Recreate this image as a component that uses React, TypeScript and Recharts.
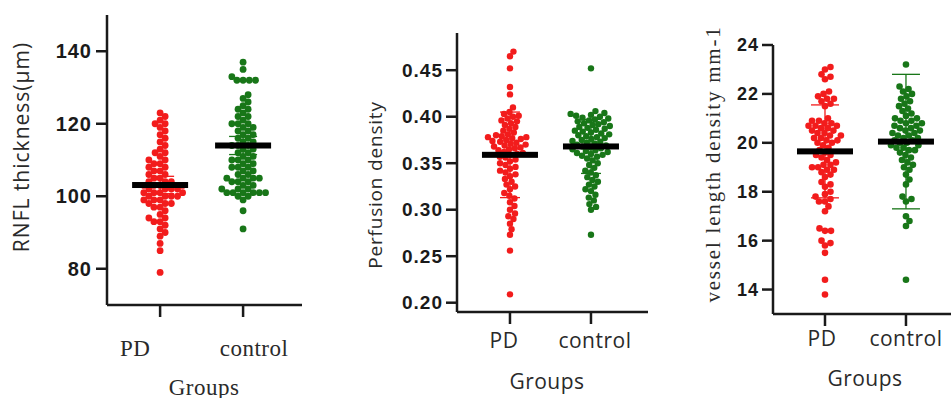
import React from 'react';
import { ScatterChart, Scatter, XAxis, YAxis, ErrorBar, Label } from 'recharts';

const GROUPS = ['PD', 'control'];
const RED = '#f21c1c';
const GREEN = '#187618';

// RNFL thickness (µm)
const rnflPD = [123, 122, 121, 120, 120, 119, 118, 117, 116, 115, 114, 113, 112, 112, 111, 110, 110, 109, 109, 108, 108, 107, 107, 106, 106, 105, 105, 104, 104, 104, 103, 103, 103, 103, 102, 102, 102, 102, 101, 101, 101, 101, 100, 100, 100, 100, 99, 99, 99, 98, 98, 98, 97, 97, 96, 95, 94, 94, 93, 93, 92, 91, 90, 89, 87, 85, 79];
const rnflControl = [137, 135, 133, 132, 132, 132, 132, 128, 127, 126, 125, 124, 124, 123, 122, 122, 121, 120, 120, 120, 119, 119, 118, 118, 117, 117, 116, 116, 115, 115, 114, 114, 114, 113, 113, 112, 112, 111, 111, 110, 110, 110, 109, 109, 108, 108, 108, 107, 107, 106, 106, 105, 105, 105, 105, 104, 104, 104, 103, 103, 102, 102, 102, 101, 101, 101, 101, 101, 101, 100, 100, 99, 96, 91];
const rnflMean = [103.1, 114.0];
const rnflErr = [2.4, 2.5];

// Perfusion density
const perfPD = [0.470, 0.465, 0.452, 0.432, 0.424, 0.410, 0.405, 0.403, 0.401, 0.400, 0.398, 0.396, 0.395, 0.393, 0.391, 0.389, 0.387, 0.385, 0.383, 0.381, 0.380, 0.379, 0.378, 0.378, 0.377, 0.376, 0.375, 0.374, 0.373, 0.372, 0.371, 0.370, 0.369, 0.368, 0.367, 0.366, 0.365, 0.364, 0.362, 0.361, 0.360, 0.359, 0.357, 0.356, 0.354, 0.352, 0.350, 0.348, 0.346, 0.344, 0.342, 0.340, 0.338, 0.336, 0.333, 0.330, 0.327, 0.325, 0.322, 0.318, 0.315, 0.312, 0.308, 0.304, 0.300, 0.296, 0.293, 0.290, 0.285, 0.279, 0.273, 0.256, 0.209];
const perfControl = [0.452, 0.406, 0.404, 0.403, 0.402, 0.401, 0.400, 0.399, 0.398, 0.397, 0.396, 0.395, 0.394, 0.393, 0.392, 0.391, 0.390, 0.389, 0.388, 0.387, 0.386, 0.385, 0.384, 0.383, 0.382, 0.381, 0.380, 0.379, 0.378, 0.377, 0.376, 0.375, 0.374, 0.373, 0.372, 0.371, 0.370, 0.369, 0.368, 0.367, 0.366, 0.365, 0.364, 0.363, 0.362, 0.361, 0.360, 0.359, 0.358, 0.357, 0.355, 0.353, 0.350, 0.348, 0.345, 0.342, 0.340, 0.337, 0.335, 0.332, 0.330, 0.327, 0.325, 0.322, 0.320, 0.316, 0.313, 0.310, 0.306, 0.303, 0.300, 0.273];
const perfMean = [0.359, 0.368];
const perfErr = [0.046, 0.029];

// Vessel length density (mm-1)
const vldPD = [23.1, 23.0, 22.8, 22.7, 22.6, 22.1, 22.0, 21.9, 21.8, 21.8, 21.7, 21.6, 21.5, 21.0, 20.9, 20.9, 20.8, 20.8, 20.7, 20.7, 20.7, 20.6, 20.6, 20.5, 20.5, 20.4, 20.4, 20.3, 20.3, 20.2, 20.2, 20.1, 20.1, 20.0, 20.0, 19.9, 19.8, 19.7, 19.6, 19.5, 19.5, 19.4, 19.3, 19.2, 19.1, 19.1, 19.0, 19.0, 18.9, 18.9, 18.8, 18.7, 18.6, 18.4, 18.3, 18.2, 18.0, 17.9, 17.8, 17.7, 17.6, 17.6, 17.4, 17.2, 16.5, 16.4, 16.4, 16.0, 15.9, 15.8, 15.5, 14.4, 13.8];
const vldControl = [23.2, 22.3, 22.2, 22.1, 22.0, 21.9, 21.8, 21.7, 21.6, 21.5, 21.4, 21.3, 21.2, 21.1, 21.0, 21.0, 20.9, 20.9, 20.8, 20.8, 20.7, 20.7, 20.6, 20.6, 20.5, 20.5, 20.4, 20.4, 20.3, 20.3, 20.2, 20.2, 20.1, 20.1, 20.0, 20.0, 19.9, 19.9, 19.8, 19.8, 19.7, 19.7, 19.6, 19.5, 19.4, 19.3, 19.2, 19.1, 19.0, 18.9, 18.7, 18.5, 18.3, 17.8, 17.7, 17.6, 17.0, 16.8, 16.6, 14.4];
const vldMean = [19.65, 20.05];
const vldErr = [1.9, 2.75];

// beeswarm offsets (in x-axis units) so dots of diameter `dia` px don't overlap
function swarm(values: number[], pxPerY: number, pxPerX: number, dia: number) {
  const order = values.map((_, i) => i).sort((a, b) => values[a] - values[b]);
  const placed: { x: number; y: number }[] = [];
  const out: number[] = new Array(values.length).fill(0);
  for (const i of order) {
    const y = values[i] * pxPerY;
    const near = placed.filter((p) => Math.abs(p.y - y) < dia);
    const cands = [0];
    near.forEach((p) => {
      const dx = Math.sqrt(dia * dia - (p.y - y) ** 2);
      cands.push(p.x + dx, p.x - dx);
    });
    cands.sort((a, b) => Math.abs(a) - Math.abs(b));
    const x = cands.find((c) => near.every((p) => (p.x - c) ** 2 + (p.y - y) ** 2 >= dia * dia - 1e-6)) ?? 0;
    placed.push({ x, y });
    out[i] = x / pxPerX;
  }
  return out;
}

const Panel = ({ cfg }) => {
  const plotW = cfg.width - cfg.yWidth - cfg.right;
  const plotH = 398 - cfg.top - cfg.bottom;
  const pxPerX = plotW / (cfg.xDomain[1] - cfg.xDomain[0]);
  const pxPerY = plotH / (cfg.yDomain[1] - cfg.yDomain[0]);
  const sets = [cfg.pd, cfg.control].map((vals, g) => {
    const off = swarm(vals, pxPerY, pxPerX, cfg.dia);
    return vals.map((v, i) => ({ x: g + 1 + off[i], y: v }));
  });
  const means = cfg.mean.map((m, g) => ({ x: g + 1, y: m, err: cfg.err[g] }));
  const colors = [RED, GREEN];
  const axisStroke = '#1a1a1a';
  const textStyle = { fontFamily: cfg.xFont, fontSize: cfg.xSize, fill: '#2a2a2a', letterSpacing: cfg.xSpacing };

  const GroupTick = ({ x, payload }) => {
    const idx = payload.value - 1;
    return (
      <text x={x + cfg.tickDx[idx]} y={cfg.tickY} textAnchor="middle" dominantBaseline="central" style={textStyle}>
        {GROUPS[idx]}
      </text>
    );
  };

  return (
    <div style={{ position: 'absolute', left: cfg.left, top: 0 }}>
      <ScatterChart width={cfg.width} height={398} margin={{ top: cfg.top, right: cfg.right, bottom: 0, left: 0 }}>
        <XAxis
          type="number" dataKey="x" domain={cfg.xDomain} ticks={[1, 2]} allowDataOverflow height={cfg.bottom}
          axisLine={{ stroke: axisStroke, strokeWidth: 2.5 }} tickLine={{ stroke: axisStroke, strokeWidth: 2.5 }}
          tickSize={12} tick={<GroupTick />}
        >
          <Label content={() => (
            <text x={cfg.groupsX - cfg.left} y={cfg.groupsY} textAnchor="middle" dominantBaseline="central"
              style={{ ...textStyle, fontSize: cfg.groupsSize }}>Groups</text>
          )} />
        </XAxis>
        <YAxis
          type="number" dataKey="y" domain={cfg.yDomain} ticks={cfg.yTicks} allowDataOverflow width={cfg.yWidth}
          tickFormatter={cfg.yFmt}
          axisLine={{ stroke: axisStroke, strokeWidth: 2.5 }} tickLine={{ stroke: axisStroke, strokeWidth: 2.5 }}
          tickSize={11} tickMargin={cfg.yTickMargin}
          tick={{ fontFamily: 'Liberation Sans, Arial', fontWeight: 'bold', fontSize: cfg.yTickSize, fill: '#1a1a1a', letterSpacing: 1 }}
        >
          <Label content={() => (
            <text x={cfg.yLabelX - cfg.left} y={cfg.yLabelY} textAnchor="middle" dominantBaseline="central"
              transform={`rotate(-90 ${cfg.yLabelX - cfg.left} ${cfg.yLabelY})`}
              style={{ fontFamily: cfg.yLabelFont, fontSize: cfg.yLabelSize, fill: '#2a2a2a', letterSpacing: cfg.yLabelSpacing }}>
              {cfg.yLabel}
            </text>
          )} />
        </YAxis>
        {sets.map((d, g) => (
          <Scatter key={g} data={d} isAnimationActive={false}
            shape={(p) => <circle cx={p.cx} cy={p.cy} r={cfg.dia / 2 + 0.3} fill={colors[g]} />} />
        ))}
        {means.map((m, g) => (
          <Scatter key={'m' + g} data={[m]} isAnimationActive={false}
            shape={(p) => <rect x={p.cx - 28} y={p.cy - 3} width={56} height={6} fill="#000" />}>
            <ErrorBar dataKey="err" direction="y" width={cfg.capW} stroke={colors[g]} strokeWidth={1.3} />
          </Scatter>
        ))}
      </ScatterChart>
    </div>
  );
};

const SERIF = 'Liberation Serif, Times New Roman, serif';
const SANS = 'Open Sans, sans-serif';

const PANELS = [
  {
    left: 0, width: 310, yWidth: 107, right: 8, top: 15, bottom: 93,
    xDomain: [0.36, 2.71], yDomain: [70, 150], yTicks: [80, 100, 120, 140], yFmt: (v) => String(v),
    yTickSize: 20, yTickMargin: 4,
    pd: rnflPD, control: rnflControl, mean: rnflMean, err: rnflErr, dia: 6.2, capW: 14,
    xFont: SERIF, xSize: 23, xSpacing: 0.5, tickDx: [-25, 11], tickY: 348, groupsX: 204, groupsY: 387, groupsSize: 23,
    yLabel: 'RNFL thickness(μm)', yLabelX: 21, yLabelY: 147, yLabelFont: SANS, yLabelSize: 21, yLabelSpacing: 1,
  },
  {
    left: 320, width: 330, yWidth: 137, right: 2, top: 33, bottom: 86,
    xDomain: [0.346, 2.704], yDomain: [0.19, 0.49], yTicks: [0.2, 0.25, 0.3, 0.35, 0.4, 0.45], yFmt: (v) => v.toFixed(2),
    yTickSize: 19, yTickMargin: 3,
    pd: perfPD, control: perfControl, mean: perfMean, err: perfErr, dia: 5.8, capW: 10,
    xFont: SANS, xSize: 21, xSpacing: 0.5, tickDx: [-6, 4], tickY: 340, groupsX: 547, groupsY: 381, groupsSize: 21,
    yLabel: 'Perfusion density', yLabelX: 375, yLabelY: 185, yLabelFont: SANS, yLabelSize: 19, yLabelSpacing: 0.8,
  },
  {
    left: 660, width: 291, yWidth: 113, right: 0, top: 45, bottom: 84,
    xDomain: [0.358, 2.556], yDomain: [13, 24], yTicks: [14, 16, 18, 20, 22, 24], yFmt: (v) => String(v),
    yTickSize: 18, yTickMargin: 3,
    pd: vldPD, control: vldControl, mean: vldMean, err: vldErr, dia: 6, capW: 14,
    xFont: SANS, xSize: 21, xSpacing: 0.5, tickDx: [-3, 0], tickY: 338, groupsX: 865, groupsY: 378, groupsSize: 21,
    yLabel: 'vessel length density mm-1', yLabelX: 713, yLabelY: 164, yLabelFont: SERIF, yLabelSize: 21, yLabelSpacing: 1.8,
  },
];

export default function App() {
  return (
    <div style={{ position: 'absolute', left: 0, top: 0, width: 951, height: 398, background: '#fff', overflow: 'hidden' }}>
      {PANELS.map((c, i) => <Panel key={i} cfg={c} />)}
    </div>
  );
}
